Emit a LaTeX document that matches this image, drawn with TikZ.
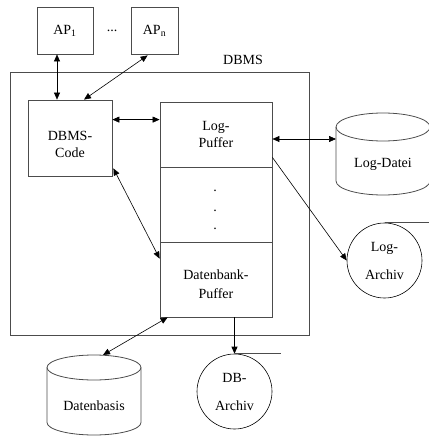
\documentclass[tikz,border=0pt]{standalone}
\usepackage{fontspec}
\setmainfont{Liberation Serif}
\usetikzlibrary{arrows.meta,calc}
\begin{document}
\begin{tikzpicture}[x=1pt,y=-1pt,
  font=\fontsize{14}{16}\selectfont,
  >={Triangle[length=7pt,width=6pt]},
  boxline/.style={draw=black!70,line width=0.8pt},
  blk/.style={boxline,inner sep=0pt,align=center},
  txt/.style={inner sep=0pt,align=center},
  dar/.style={<->,line width=0.6pt},
  sar/.style={->,line width=0.6pt}]
\useasboundingbox (0,0) rectangle (428,436);

% application programs
\node[blk,minimum width=56pt,minimum height=47pt] (ap1) at (65,30.5) {AP\textsubscript{1}};
\node[blk,minimum width=47pt,minimum height=47pt] (apn) at (154.5,30.5) {AP\textsubscript{n}};
\node[txt] (apdots) at (112,31) {...};

% DBMS frame
\node[boxline,minimum width=299pt,minimum height=263pt,inner sep=0pt] (dbms) at (159.5,203.5) {};
\node[txt] (dbmslbl) at (243,60) {DBMS};

% DBMS code
\node[boxline,minimum width=84pt,minimum height=76pt,inner sep=0pt] (code) at (70,138) {};
\node[txt] (codelbl) at (70,144.5) {DBMS-\\[1pt]Code};

% buffer column
\node[blk,minimum width=112pt,minimum height=65pt,font=\fontsize{14}{17}\selectfont] (logp) at (216,134.5) {Log-\\Puffer};
\node[boxline,minimum width=112pt,minimum height=75pt,inner sep=0pt] (mid) at (216,204.5) {};
\node[txt] (d1) at (215,191) {.};
\node[txt] (d2) at (215,211) {.};
\node[txt] (d3) at (215,229) {.};
\node[boxline,minimum width=112pt,minimum height=75pt,inner sep=0pt] (dbp) at (216,279.5) {};
\node[txt,font=\fontsize{14}{19}\selectfont] (dbplbl) at (216,284) {Datenbank-\\Puffer};

% Log-Datei (cylinder)
\draw[boxline] (383,127) ellipse [x radius=47,y radius=14];
\draw[boxline] (336,127) -- (336,181) arc [start angle=180,end angle=0,x radius=47,y radius=14] -- (430,127);
\node[txt] (logdatei) at (383,164) {Log-Datei};
\coordinate (ldw) at (336,139);

% Datenbasis (cylinder)
\draw[boxline] (94,367.5) ellipse [x radius=47,y radius=12.5];
\draw[boxline] (47,367.5) -- (47,422.5) arc [start angle=180,end angle=0,x radius=47,y radius=12.5] -- (141,367.5);
\node[txt] (datenbasis) at (94,406) {Datenbasis};
\coordinate (dbtop) at (103,355);

% archives
\node[draw=black,line width=0.6pt,circle,minimum size=75pt,inner sep=0pt] (logarch) at (384.5,260.5) {};
\node[txt,font=\fontsize{14}{28}\selectfont] (logarchlbl) at (384.5,261) {Log-\\Archiv};
\draw[boxline] (logarch.north) -- ++(44,0);
\node[draw=black,line width=0.6pt,circle,minimum size=75pt,inner sep=0pt] (dbarch) at (234.5,391.5) {};
\node[txt,font=\fontsize{14}{28}\selectfont] (dbarchlbl) at (234.5,392) {DB-\\Archiv};
\draw[boxline] (dbarch.north) -- ++(46,0);

% connector end points
\coordinate (ap1out) at ($(ap1.south)+(-8,0)$);
\coordinate (codeR) at ($(code.north east)+(0,20)$);

% connectors
\draw[dar] (ap1out) -- (ap1out |- code.north);
\draw[dar] ($(apn.south west)+(17,1)$) -- ($(code.north)+(14,0)$);
\draw[dar] (codeR) -- (codeR -| logp.west);
\draw[dar] ($(logp.east)+(0,4.5)$) -- (ldw);
\draw[sar] ($(logp.south east)+(0,-10)$) -- (logarch.west);
\draw[dar] ($(code.south east)+(1,-8)$) -- ($(dbp.north west)+(0,17)$);
\draw[sar] (dbp.south -| dbarch.north) -- (dbarch.north);
\draw[dar] ($(dbp.south west)+(8,0)$) -- (dbtop);
\end{tikzpicture}
\end{document}
